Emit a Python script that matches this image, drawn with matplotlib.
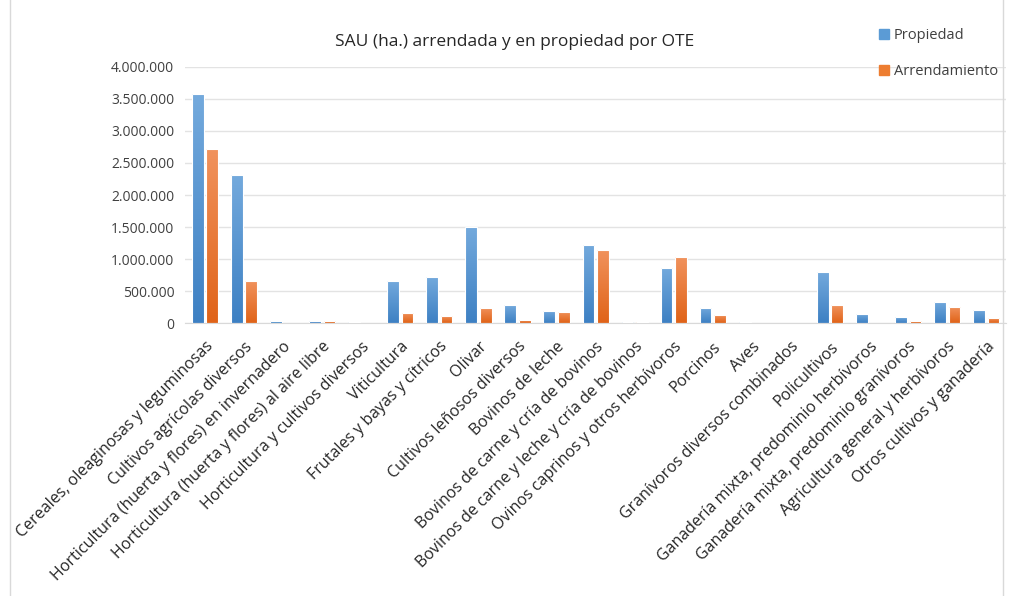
import numpy as np
import matplotlib
matplotlib.use("Agg")
import matplotlib.pyplot as plt
from matplotlib.colors import LinearSegmentedColormap
from matplotlib.ticker import FuncFormatter, MultipleLocator

plt.rcParams["font.family"] = ["Open Sans", "DejaVu Sans"]

# OTE categories
categorias = [
    "Cereales, oleaginosas y leguminosas",
    "Cultivos agrícolas diversos",
    "Horticultura (huerta y flores) en invernadero",
    "Horticultura (huerta y flores) al aire libre",
    "Horticultura y cultivos diversos",
    "Viticultura",
    "Frutales y bayas y cítricos",
    "Olivar",
    "Cultivos leñosos diversos",
    "Bovinos de leche",
    "Bovinos de carne y cría de bovinos",
    "Bovinos de carne y leche y cría de bovinos",
    "Ovinos caprinos y otros herbívoros",
    "Porcinos",
    "Aves",
    "Granívoros diversos combinados",
    "Policultivos",
    "Ganadería mixta, predominio herbívoros",
    "Ganadería mixta, predominio granívoros",
    "Agricultura general y herbívoros",
    "Otros cultivos y ganadería",
]

# SAU (ha.)
propiedad = [3570000, 2320000, 30000, 40000, 20000, 660000, 720000, 1500000,
             280000, 190000, 1220000, 20000, 865000, 240000, 20000, 0,
             800000, 150000, 100000, 330000, 215000]
arrendamiento = [2720000, 665000, 0, 40000, 0, 165000, 113000, 243000,
                 50000, 180000, 1140000, 15000, 1036000, 125000, 10000, 0,
                 280000, 0, 36000, 255000, 83000]

blue_cmap = LinearSegmentedColormap.from_list("b", ["#3D80C3", "#74AADD"])
orange_cmap = LinearSegmentedColormap.from_list("o", ["#E06318", "#F1935E"])


def gradient_bars(ax, bars, cmap):
    grad = np.linspace(0, 1, 256).reshape(-1, 1)
    for b in bars:
        x0, y0 = b.get_x(), b.get_y()
        w, h = b.get_width(), b.get_height()
        if h <= 0:
            continue
        im = ax.imshow(grad, cmap=cmap, origin="lower", aspect="auto",
                       extent=[x0, x0 + w, y0, y0 + h], zorder=2)
        im.set_clip_path(b)


fig = plt.figure(figsize=(10.13, 5.96), dpi=100)
ax = fig.add_axes([0.183, 0.4575, 0.81, 0.4305])

x = np.arange(len(categorias))
w = 0.30
b1 = ax.bar(x - 0.185, propiedad, w, color="#5B9BD5", edgecolor="white",
            linewidth=0.8, label="Propiedad", zorder=3)
b2 = ax.bar(x + 0.185, arrendamiento, w, color="#ED7D31", edgecolor="white",
            linewidth=0.8, label="Arrendamiento", zorder=3)
for b in list(b1) + list(b2):
    b.set_facecolor("none")
gradient_bars(ax, b1, blue_cmap)
gradient_bars(ax, b2, orange_cmap)

ax.set_xlim(-0.5, len(categorias) - 0.5)
ax.set_ylim(0, 4000000)
ax.yaxis.set_major_locator(MultipleLocator(500000))
ax.yaxis.set_major_formatter(FuncFormatter(lambda v, p: f"{int(v):,}".replace(",", ".")))
ax.grid(axis="y", color="#E3E3E3", linewidth=1)
ax.set_axisbelow(True)
for s in ["top", "right", "left"]:
    ax.spines[s].set_visible(False)
ax.spines["bottom"].set_color("#D9D9D9")
ax.tick_params(axis="both", length=0, labelsize=10, colors="#404040", pad=8)
ax.tick_params(axis="x", pad=11)
ax.set_xticks(x)
ax.set_xticklabels(categorias, rotation=45, ha="right", rotation_mode="anchor",
                   fontsize=11.5, color="#262626")

fig.text(0.508, 0.93, "SAU (ha.) arrendada y en propiedad por OTE",
         ha="center", va="center", fontsize=12.5, color="#262626")

handles = [plt.Rectangle((0, 0), 1, 1, color="#5B9BD5"),
           plt.Rectangle((0, 0), 1, 1, color="#ED7D31")]
fig.legend(handles, ["Propiedad", "Arrendamiento"], loc="upper left",
           bbox_to_anchor=(0.855, 0.975), frameon=False, fontsize=10.5,
           handlelength=0.7, handleheight=0.7, handletextpad=0.3,
           labelspacing=1.45, labelcolor="#404040")

# chart frame
fig.patches.append(plt.Rectangle((0.01, -0.01), 0.98, 1.02, transform=fig.transFigure,
                                 fill=False, edgecolor="#D9D9D9", linewidth=1))

fig.savefig("out.png", dpi=100)
